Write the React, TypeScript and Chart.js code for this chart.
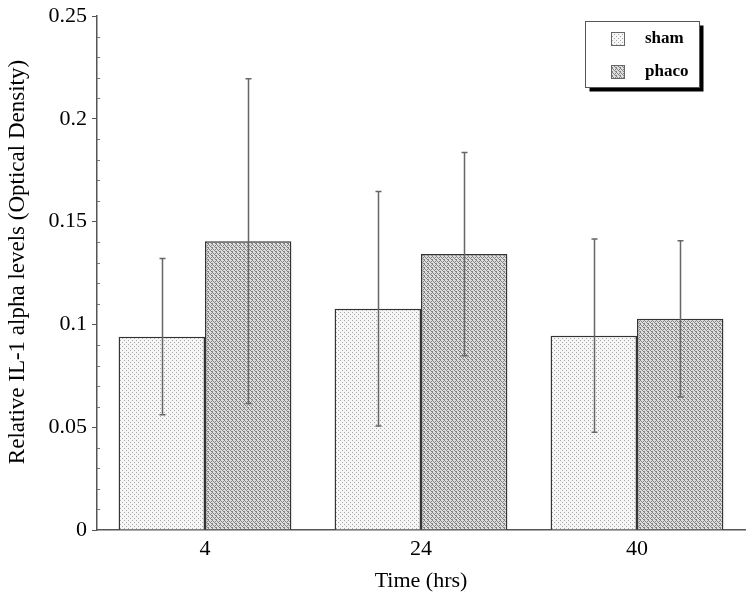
import React, { useEffect, useRef } from "react";
import { Chart, registerables } from "chart.js";

Chart.register(...registerables);

const categories = ["4", "24", "40"];
const seriesNames = ["sham", "phaco"];
const shamValues = [0.094, 0.1076, 0.0945];
const phacoValues = [0.1405, 0.1342, 0.1027];
const shamErrors = [0.038, 0.057, 0.047];
const phacoErrors = [0.079, 0.0494, 0.038];
const yMin = 0;
const yMax = 0.25;
const yStep = 0.05;
const yMinorStep = 0.01;
const xTitle = "Time (hrs)";
const yTitle = "Relative IL-1 alpha levels (Optical Density)";

const FONT = "'Liberation Serif', 'Times New Roman', serif";

function makePattern(kind: "sham" | "phaco"): CanvasPattern | string {
  const c = document.createElement("canvas");
  c.width = 4;
  c.height = 4;
  const g = c.getContext("2d");
  if (!g) return kind === "sham" ? "#eee" : "#ccc";
  if (kind === "sham") {
    g.fillStyle = "#f6f6f6";
    g.fillRect(0, 0, 4, 4);
    g.fillStyle = "#a8a8a8";
    g.fillRect(0, 0, 1, 1);
    g.fillRect(2, 2, 1, 1);
  } else {
    g.fillStyle = "#dedede";
    g.fillRect(0, 0, 4, 4);
    g.fillStyle = "#828282";
    const pts = [[0, 0], [1, 1], [3, 1], [2, 2], [0, 3], [3, 3]];
    pts.forEach(([x, y]) => g.fillRect(x, y, 1, 1));
  }
  const p = g.createPattern(c, "repeat");
  return p || (kind === "sham" ? "#eee" : "#ccc");
}

export default function App() {
  const ref = useRef<HTMLCanvasElement | null>(null);

  useEffect(() => {
    document.body.style.margin = "0";
    const canvas = ref.current;
    if (!canvas) return;
    const shamFill = makePattern("sham");
    const phacoFill = makePattern("phaco");
    const errors = [shamErrors, phacoErrors];

    const errorBars = {
      id: "errorBars",
      afterDatasetsDraw(chart: any) {
        const ctx = chart.ctx;
        const ys = chart.scales.y;
        ctx.save();
        ctx.strokeStyle = "#666";
        ctx.lineWidth = 1.5;
        chart.data.datasets.forEach((ds: any, di: number) => {
          const meta = chart.getDatasetMeta(di);
          meta.data.forEach((el: any, i: number) => {
            const v = ds.data[i];
            const e = errors[di][i];
            const x = Math.round(el.x) + 0.5;
            const t = ys.getPixelForValue(v + e);
            const b = ys.getPixelForValue(v - e);
            ctx.beginPath();
            ctx.moveTo(x, t);
            ctx.lineTo(x, b);
            ctx.moveTo(x - 3, t);
            ctx.lineTo(x + 3, t);
            ctx.moveTo(x - 3, b);
            ctx.lineTo(x + 3, b);
            ctx.stroke();
          });
        });
        ctx.restore();
      },
    };

    const extras = {
      id: "extras",
      afterDraw(chart: any) {
        const ctx = chart.ctx;
        const ys = chart.scales.y;
        const x0 = chart.chartArea.left;
        ctx.save();
        ctx.strokeStyle = "#777";
        ctx.lineWidth = 1;
        const n = Math.round((yMax - yMin) / yMinorStep);
        for (let k = 0; k <= n; k++) {
          if (k % Math.round(yStep / yMinorStep) === 0) continue;
          const y = Math.round(ys.getPixelForValue(yMin + k * yMinorStep)) + 0.5;
          ctx.beginPath();
          ctx.moveTo(x0, y);
          ctx.lineTo(x0 + 3, y);
          ctx.stroke();
        }
        // y-axis title
        ctx.translate(18, 262);
        ctx.rotate(-Math.PI / 2);
        ctx.font = `23px ${FONT}`;
        ctx.fillStyle = "#000";
        ctx.textAlign = "center";
        ctx.textBaseline = "middle";
        ctx.fillText(yTitle, 0, 0);
        ctx.restore();

        // legend
        const bx = 585.5, by = 21.5, bw = 114, bh = 66;
        ctx.save();
        ctx.fillStyle = "#000";
        ctx.fillRect(bx + 4, by + 4, bw, bh);
        ctx.fillStyle = "#fff";
        ctx.fillRect(bx, by, bw, bh);
        ctx.strokeStyle = "#555";
        ctx.lineWidth = 1;
        ctx.strokeRect(bx, by, bw, bh);
        const fills = [shamFill, phacoFill];
        const rowsY = [39, 72];
        ctx.font = `bold 17px ${FONT}`;
        ctx.textBaseline = "middle";
        ctx.textAlign = "left";
        seriesNames.forEach((name, i) => {
          const sy = rowsY[i];
          ctx.fillStyle = fills[i] as any;
          ctx.fillRect(611, sy - 7, 14, 14);
          ctx.strokeStyle = "#666";
          ctx.strokeRect(611.5, sy - 6.5, 13, 13);
          ctx.fillStyle = "#000";
          ctx.fillText(name, 645, sy);
        });
        ctx.restore();
      },
    };

    const chart = new Chart(canvas, {
      type: "bar",
      data: {
        labels: categories,
        datasets: [
          {
            label: seriesNames[0],
            data: shamValues,
            backgroundColor: shamFill as any,
            borderColor: "#333",
            borderWidth: 1.5,
            barPercentage: 1,
            categoryPercentage: 0.8,
          },
          {
            label: seriesNames[1],
            data: phacoValues,
            backgroundColor: phacoFill as any,
            borderColor: "#333",
            borderWidth: 1.5,
            barPercentage: 1,
            categoryPercentage: 0.8,
          },
        ],
      },
      options: {
        responsive: false,
        animation: false,
        layout: { padding: { left: 0, right: 9, top: 14, bottom: 0 } },
        plugins: {
          legend: { display: false },
          tooltip: { enabled: false },
        },
        scales: {
          x: {
            grid: { display: false, drawTicks: false },
            border: { display: true, color: "#555", width: 1.5 },
            ticks: {
              color: "#000",
              font: { family: FONT, size: 22 },
              padding: 6,
            },
            title: {
              display: true,
              text: xTitle,
              color: "#000",
              font: { family: FONT, size: 22 },
              padding: { top: 4, bottom: 6 },
            },
            afterFit: (s: any) => {
              s.height = 70;
            },
          },
          y: {
            min: yMin,
            max: yMax,
            ticks: {
              stepSize: yStep,
              color: "#000",
              font: { family: FONT, size: 22, lineHeight: 1 },
              padding: 5,
              callback: (v: any) => String(Number(Number(v).toFixed(2))),
            },
            grid: {
              drawOnChartArea: false,
              drawTicks: true,
              tickLength: 5,
              color: "#555",
            },
            border: { display: true, color: "#555", width: 1.5 },
            title: { display: false },
            afterFit: (s: any) => {
              s.width = 97;
            },
          },
        },
      },
      plugins: [errorBars, extras],
    });
    return () => chart.destroy();
  }, []);

  return (
    <div style={{ width: 754, height: 600, background: "#fff" }}>
      <canvas ref={ref} width={754} height={600} />
    </div>
  );
}
